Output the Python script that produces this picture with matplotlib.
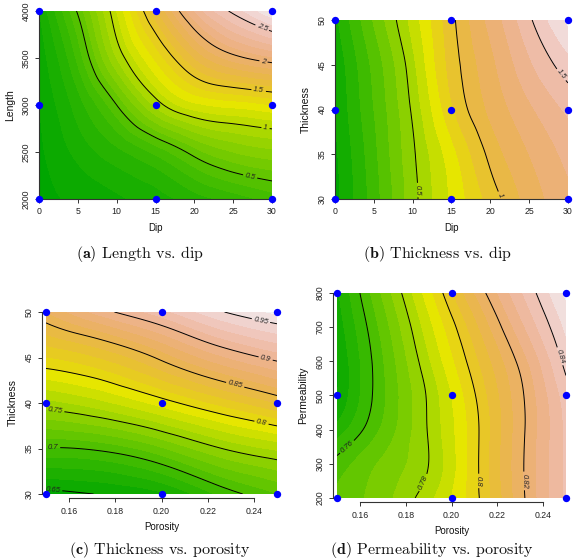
import numpy as np
import matplotlib
matplotlib.use("Agg")
import matplotlib.pyplot as plt
import matplotlib.tri as mtri
import colorsys

plt.rcParams['font.family'] = ['Liberation Sans', 'DejaVu Sans']
plt.rcParams['mathtext.fontset'] = 'cm'

# ---------------- data ----------------
# (a) Length vs. dip
dip_a = [0, 5, 10, 15, 20, 25, 30]
length_a = [2000, 2500, 3000, 3500, 4000]
z_a = [
    [-0.12, -0.08, -0.02, 0.06, 0.15, 0.24, 0.34],
    [-0.12, 0.03, 0.17, 0.33, 0.55, 0.70, 0.77],
    [-0.10, 0.15, 0.50, 0.925, 1.17, 1.24, 1.30],
    [-0.06, 0.33, 0.90, 1.32, 1.70, 1.95, 2.08],
    [0.00, 0.52, 1.10, 1.67, 2.20, 2.53, 2.80],
]
design_dip = [0, 15, 30]
design_length = [2000, 3000, 4000]

# (b) Thickness vs. dip
dip_b = [0, 5, 10, 15, 20, 25, 30]
thick_b = [30, 35, 40, 45, 50]
z_b = [
    [-0.13, 0.15, 0.46, 0.72, 0.94, 1.14, 1.27],
    [-0.12, 0.17, 0.48, 0.76, 1.03, 1.20, 1.33],
    [-0.10, 0.20, 0.52, 0.88, 1.12, 1.28, 1.42],
    [-0.08, 0.23, 0.57, 0.94, 1.17, 1.38, 1.56],
    [-0.03, 0.31, 0.64, 0.97, 1.23, 1.48, 1.72],
]
design_thick = [30, 40, 50]

# (c) Thickness vs. porosity
por_c = [0.15, 0.175, 0.20, 0.225, 0.25]
thick_c = [30, 35, 40, 45, 50]
z_c = [
    [0.645, 0.651, 0.660, 0.690, 0.712],
    [0.699, 0.704, 0.723, 0.749, 0.765],
    [0.758, 0.772, 0.793, 0.816, 0.838],
    [0.812, 0.827, 0.854, 0.884, 0.905],
    [0.862, 0.895, 0.920, 0.948, 0.965],
]
design_por = [0.15, 0.20, 0.25]

# (d) Permeability vs. porosity
por_d = [0.15, 0.17, 0.19, 0.21, 0.23, 0.25]
perm_d = [200, 300, 400, 500, 600, 700, 800]
z_d = [
    [0.766, 0.773, 0.7835, 0.798, 0.818, 0.836],
    [0.762, 0.771, 0.780, 0.798, 0.8185, 0.836],
    [0.752, 0.766, 0.7805, 0.798, 0.818, 0.836],
    [0.745, 0.764, 0.781, 0.7995, 0.8185, 0.8375],
    [0.745, 0.7646, 0.7842, 0.8032, 0.8217, 0.842],
    [0.747, 0.767, 0.788, 0.808, 0.828, 0.846],
    [0.749, 0.771, 0.793, 0.815, 0.834, 0.851],
]
design_perm = [200, 500, 800]

captions = ["Length vs. dip", "Thickness vs. dip",
            "Thickness vs. porosity", "Permeability vs. porosity"]


def terrain_colors(n):
    k = n // 2
    cols = []
    for h, s, v in zip(np.linspace(4 / 12, 2 / 12, k), np.ones(k), np.linspace(0.65, 0.9, k)):
        cols.append(colorsys.hsv_to_rgb(h, s, v))
    m = n - k + 1
    for h, s, v in zip(np.linspace(2 / 12, 0, m)[1:], np.linspace(1, 0, m)[1:], np.linspace(0.9, 0.95, m)[1:]):
        cols.append(colorsys.hsv_to_rgb(h, s, v))
    return cols


def smooth_field(x, y, z):
    x = np.asarray(x, float)
    y = np.asarray(y, float)
    z = np.asarray(z, float)
    X, Y = np.meshgrid(x, y)
    xr = x.max() - x.min()
    yr = y.max() - y.min()
    xn = (X - x.min()) / xr
    yn = (Y - y.min()) / yr
    tri = mtri.Triangulation(xn.ravel(), yn.ravel())
    interp = mtri.CubicTriInterpolator(tri, z.ravel(), kind='min_E')
    refiner = mtri.UniformTriRefiner(tri)
    tri_f, z_f = refiner.refine_field(z.ravel(), triinterpolator=interp, subdiv=4)
    tri_d = mtri.Triangulation(x.min() + tri_f.x * xr, y.min() + tri_f.y * yr, tri_f.triangles)
    return tri_d, z_f


AX_COL = '#333333'


def panel(ax, x, y, z, fill_levels, line_levels, label_pos, dx, dy, xticks, xticklabels,
          yticks, xlabel, ylabel, offset=0):
    tri, zf = smooth_field(x, y, z)
    n = len(fill_levels) - 1
    ax.tricontourf(tri, zf, levels=fill_levels, colors=terrain_colors(n), extend='neither')
    cs = ax.tricontour(tri, zf, levels=line_levels, colors='black', linewidths=0.7)
    ax.clabel(cs, line_levels, fmt='%g', fontsize=5.5, inline=True, manual=label_pos,
              inline_spacing=2)
    for t in cs.labelTexts:
        t.set_style('italic')
        t.set_color('#222222')
    DX, DY = np.meshgrid(dx, dy)
    ax.scatter(DX.ravel(), DY.ravel(), s=28, color='#0000FF', zorder=6, clip_on=False,
               linewidths=0)
    ax.set_xlim(min(x), max(x))
    ax.set_ylim(min(y), max(y))
    for s in ['top', 'right']:
        ax.spines[s].set_visible(False)
    for s in ['bottom', 'left']:
        ax.spines[s].set_color(AX_COL)
        ax.spines[s].set_linewidth(0.8)
        if offset:
            ax.spines[s].set_position(('outward', offset))
    ax.set_xticks(xticks)
    ax.set_xticklabels(xticklabels)
    ax.set_yticks(yticks)
    ax.spines['bottom'].set_bounds(xticks[0], xticks[-1])
    ax.spines['left'].set_bounds(yticks[0], yticks[-1])
    ax.tick_params(direction='out', length=3, width=0.7, color=AX_COL, labelsize=6.3,
                   labelcolor='#222222', pad=3)
    for lab in ax.get_yticklabels():
        lab.set_rotation(90)
        lab.set_va('center')
    ax.set_xlabel(xlabel, fontsize=7, labelpad=5, color='#111111')
    ax.set_ylabel(ylabel, fontsize=7.5, labelpad=5, color='#111111')


W, H = 575, 560
fig = plt.figure(figsize=(W / 100, H / 100), dpi=100)


def add_ax(x0, y0, x1, y1):
    return fig.add_axes([x0 / W, 1 - y1 / H, (x1 - x0) / W, (y1 - y0) / H])


ax_a = add_ax(39, 11, 272, 199)
ax_b = add_ax(335, 20, 568, 199)
ax_c = add_ax(46, 312, 277, 494)
ax_d = add_ax(337, 293, 566, 498)

dip_ticks = [0, 5, 10, 15, 20, 25, 30]
por_ticks = [0.16, 0.18, 0.20, 0.22, 0.24]
por_labels = ["0.16", "0.18", "0.20", "0.22", "0.24"]

panel(ax_a, dip_a, length_a, z_a,
      np.round(np.arange(-0.2, 2.91, 0.1), 3), [0.5, 1.0, 1.5, 2.0, 2.5],
      [(27.2, 2245), (29.2, 2780), (28.3, 3165), (28.9, 3462), (28.7, 3815)],
      design_dip, design_length, dip_ticks, [str(t) for t in dip_ticks],
      [2000, 2500, 3000, 3500, 4000], "Dip", "Length")

panel(ax_b, dip_b, thick_b, z_b,
      np.round(np.arange(-0.2, 1.81, 0.1), 3), [0.5, 1.0, 1.5],
      [(10.7, 31.0), (21.2, 30.4), (29.3, 44.0)],
      design_dip, design_thick, dip_ticks, [str(t) for t in dip_ticks],
      [30, 35, 40, 45, 50], "Dip", "Thickness")

panel(ax_c, por_c, thick_c, z_c,
      np.round(np.arange(0.6375, 0.9751, 0.0125), 5), [0.65, 0.7, 0.75, 0.8, 0.85, 0.9, 0.95],
      [(0.153, 30.4), (0.153, 35.1), (0.154, 39.3), (0.243, 37.5), (0.232, 42.1),
       (0.245, 44.8), (0.243, 49.0)],
      design_por, design_thick, por_ticks, por_labels,
      [30, 35, 40, 45, 50], "Porosity", "Thickness", offset=3)

panel(ax_d, por_d, perm_d, z_d,
      np.round(np.arange(0.74, 0.8551, 0.005), 4), [0.76, 0.78, 0.80, 0.82, 0.84],
      [(0.153, 360), (0.186, 250), (0.2125, 250), (0.232, 250), (0.2475, 615)],
      design_por, design_perm, por_ticks, por_labels,
      [200, 300, 400, 500, 600, 700, 800], "Porosity", "Permeability", offset=3)

cap_font = dict(fontsize=11.5, family='cmr10', ha='center', va='center', color='#111111')
fig.text(140 / W, 1 - 254 / H, r'$\mathbf{(a)}$ ' + captions[0], **cap_font)
fig.text(437 / W, 1 - 254 / H, r'$\mathbf{(b)}$ ' + captions[1], **cap_font)
fig.text(160 / W, 1 - 550 / H, r'$\mathbf{(c)}$ ' + captions[2], **cap_font)
fig.text(432 / W, 1 - 550 / H, r'$\mathbf{(d)}$ ' + captions[3], **cap_font)

fig.savefig("out.png", dpi=100)
